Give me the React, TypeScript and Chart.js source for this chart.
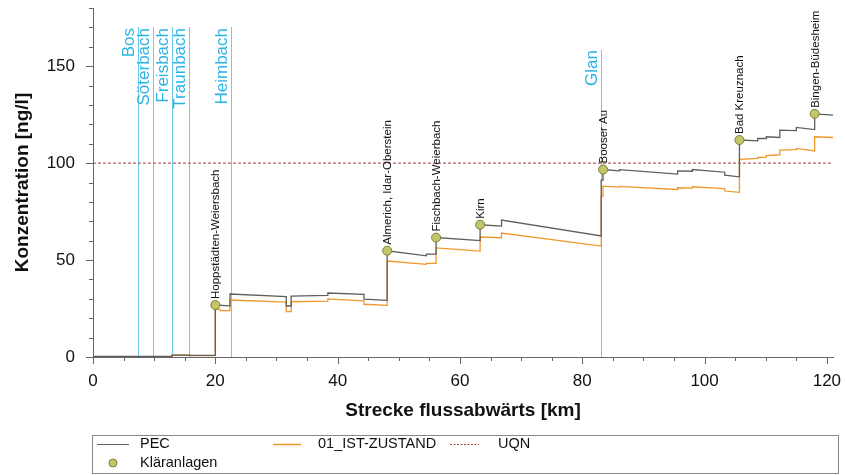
import { useEffect, useRef } from "react";
import { Chart, registerables } from "chart.js";
Chart.register(...registerables);

// ---- data ----
const pecKm = [0, 12.9, 12.9, 15.8, 15.8, 20.0, 20.0, 22.4, 22.4, 31.6, 31.6, 32.4, 32.4, 38.4, 38.4, 44.3, 44.3, 48.1, 48.1, 54.5, 54.5, 56.1, 56.1, 63.3, 63.3, 66.8, 66.8, 83.1, 83.1, 83.4, 83.4, 86.1, 86.1, 95.6, 95.6, 98.0, 98.0, 103.3, 103.3, 105.7, 105.7, 108.7, 108.7, 110.1, 110.1, 112.3, 112.3, 115.0, 115.0, 118.0, 118.0, 121];
const pecVal = [0.3, 0.3, 1.0, 1.0, 0.8, 0.8, 26.8, 26.4, 32.5, 31.1, 26.3, 26.3, 31.4, 31.8, 33.0, 32.3, 29.8, 29.2, 54.8, 52.2, 53.1, 53.1, 61.6, 60.0, 68.2, 67.5, 70.6, 62.4, 91.2, 91.2, 96.7, 96.0, 96.6, 94.3, 96.0, 95.8, 96.7, 95.3, 93.8, 92.9, 111.9, 111.5, 112.7, 112.7, 113.6, 113.2, 117.0, 116.8, 118.4, 117.3, 125.4, 124.7];

const istKm = [0, 12.9, 12.9, 15.8, 15.8, 20.0, 20.0, 20.8, 20.8, 22.4, 22.4, 31.6, 31.6, 32.4, 32.4, 38.4, 38.4, 44.3, 44.3, 48.1, 48.1, 54.5, 54.5, 56.1, 56.1, 63.3, 63.3, 66.8, 66.8, 83.1, 83.1, 83.4, 83.4, 86.1, 86.1, 95.6, 95.6, 98.0, 98.0, 103.3, 103.3, 105.7, 105.7, 108.7, 108.7, 110.1, 110.1, 112.3, 112.3, 115.0, 115.0, 118.0, 118.0, 121];
const istVal = [0.2, 0.2, 0.9, 0.9, 0.7, 0.7, 24.6, 24.6, 23.9, 23.9, 29.4, 28.3, 23.4, 23.4, 28.5, 28.8, 30.0, 28.9, 27.2, 26.6, 49.5, 47.8, 48.3, 48.3, 56.3, 54.6, 61.9, 61.5, 63.9, 57.2, 83.0, 83.0, 88.1, 87.6, 88.0, 86.4, 87.3, 87.1, 87.8, 86.8, 85.6, 84.9, 101.9, 102.4, 102.9, 103.1, 103.9, 104.3, 106.7, 106.9, 107.6, 106.3, 113.6, 113.2];

const plantNames = ["Hoppstädten-Weiersbach", "Almerich, Idar-Oberstein", "Fischbach-Weierbach", "Kirn", "Booser Au", "Bad Kreuznach", "Bingen-Büdesheim"];
const plantKm = [20.0, 48.1, 56.1, 63.3, 83.4, 105.7, 118.0];
const plantVal = [26.8, 54.8, 61.6, 68.2, 96.7, 111.9, 125.4];

const tribNames = ["Bos", "Söterbach", "Freisbach", "Traunbach", "Heimbach", "Glan"];
const tribKm = [7.4, 9.75, 12.95, 15.7, 22.5, 83.1];

const uqnValue = 100;
const xMax = 121;
const yMax = 180;
const xLabelTicks = [0, 20, 40, 60, 80, 100, 120];
const yLabelTicks = [0, 50, 100, 150];

const FONT = '"Liberation Sans", Arial, sans-serif';
const PEC_COLOR = "#5e5e5e";
const IST_COLOR = "#f0982a";
const UQN_COLOR = "#a33a3a";
const TRIB_COLOR = "#6ccdea";
const TRIB_TEXT = "#2ab4e6";
const PT_FILL = "#c3c56a";
const PT_BORDER = "#7d7d35";

const deco = {
  id: "deco",
  beforeDatasetsDraw(chart: any) {
    const ctx = chart.ctx;
    const xs = chart.scales.x;
    const area = chart.chartArea;
    ctx.save();
    ctx.strokeStyle = TRIB_COLOR;
    ctx.lineWidth = 1;
    tribKm.forEach((km, i) => {
      const x = Math.round(xs.getPixelForValue(km)) + 0.5;
      const top = tribNames[i] === "Glan" ? 50 : 27;
      ctx.beginPath();
      ctx.moveTo(x, top);
      ctx.lineTo(x, area.bottom);
      ctx.stroke();
    });
    ctx.restore();
  },
  afterDatasetsDraw(chart: any) {
    const ctx = chart.ctx;
    const xs = chart.scales.x;
    const ys = chart.scales.y;
    const area = chart.chartArea;
    ctx.save();
    // tick marks
    ctx.strokeStyle = "#666";
    ctx.lineWidth = 1;
    for (let v = 0; v <= 120; v += 5) {
      const x = Math.round(xs.getPixelForValue(v)) + 0.5;
      const len = xLabelTicks.includes(v) ? 7 : 4;
      ctx.beginPath();
      ctx.moveTo(x, area.bottom);
      ctx.lineTo(x, area.bottom + len);
      ctx.stroke();
    }
    for (let v = 0; v <= yMax; v += 10) {
      const y = Math.round(ys.getPixelForValue(v)) + 0.5;
      const len = yLabelTicks.includes(v) ? 7 : 4;
      ctx.beginPath();
      ctx.moveTo(area.left - len, y);
      ctx.lineTo(area.left, y);
      ctx.stroke();
    }

    // tributary labels
    ctx.fillStyle = TRIB_TEXT;
    ctx.font = `17px ${FONT}`;
    ctx.textAlign = "right";
    ctx.textBaseline = "alphabetic";
    tribKm.forEach((km, i) => {
      const x = xs.getPixelForValue(km) - 4;
      const top = tribNames[i] === "Glan" ? 50 : 28;
      ctx.save();
      ctx.translate(x, top);
      ctx.rotate(-Math.PI / 2);
      ctx.fillText(tribNames[i], 0, 0);
      ctx.restore();
    });

    // plant labels
    ctx.fillStyle = "#111";
    ctx.font = `11.5px ${FONT}`;
    ctx.textAlign = "left";
    plantKm.forEach((km, i) => {
      const x = xs.getPixelForValue(km) + 4;
      const y = ys.getPixelForValue(plantVal[i]) - 6;
      ctx.save();
      ctx.translate(x, y);
      ctx.rotate(-Math.PI / 2);
      ctx.fillText(plantNames[i], 0, 0);
      ctx.restore();
    });

    // axis titles
    ctx.fillStyle = "#111";
    ctx.font = `bold 19px ${FONT}`;
    ctx.textAlign = "center";
    ctx.textBaseline = "middle";
    ctx.fillText("Strecke flussabwärts [km]", (area.left + area.right) / 2, 411);
    ctx.save();
    ctx.translate(23, (area.top + area.bottom) / 2);
    ctx.rotate(-Math.PI / 2);
    ctx.fillText("Konzentration [ng/l]", 0, 0);
    ctx.restore();

    // legend
    ctx.strokeStyle = "#888";
    ctx.lineWidth = 1;
    ctx.strokeRect(92.5, 435.5, 746, 38);
    ctx.font = `14.5px ${FONT}`;
    ctx.textAlign = "left";
    ctx.textBaseline = "middle";
    ctx.fillStyle = "#111";
    const r1 = 444, r2 = 463;
    ctx.strokeStyle = PEC_COLOR;
    ctx.beginPath(); ctx.moveTo(97, r1 + 0.5); ctx.lineTo(129, r1 + 0.5); ctx.stroke();
    ctx.fillText("PEC", 140, r1);
    ctx.strokeStyle = IST_COLOR;
    ctx.lineWidth = 1.5;
    ctx.beginPath(); ctx.moveTo(273, r1 + 0.5); ctx.lineTo(301, r1 + 0.5); ctx.stroke();
    ctx.fillText("01_IST-ZUSTAND", 318, r1);
    ctx.strokeStyle = UQN_COLOR;
    ctx.lineWidth = 1;
    ctx.setLineDash([2, 1.5]);
    ctx.beginPath(); ctx.moveTo(450, r1 + 0.5); ctx.lineTo(479, r1 + 0.5); ctx.stroke();
    ctx.setLineDash([]);
    ctx.fillText("UQN", 498, r1);
    ctx.fillStyle = PT_FILL;
    ctx.strokeStyle = PT_BORDER;
    ctx.beginPath(); ctx.arc(113, r2, 4, 0, Math.PI * 2); ctx.fill(); ctx.stroke();
    ctx.fillStyle = "#111";
    ctx.fillText("Kläranlagen", 140, r2);
    ctx.restore();
  },
};

export default function App() {
  const ref = useRef<HTMLCanvasElement>(null);
  useEffect(() => {
    const toPts = (xsArr: number[], ysArr: number[]) => xsArr.map((x, i) => ({ x, y: ysArr[i] }));
    const chart = new Chart(ref.current!, {
      type: "line",
      data: {
        datasets: [
          {
            label: "Kläranlagen",
            data: toPts(plantKm, plantVal),
            showLine: false,
            pointRadius: 4.5,
            pointBackgroundColor: PT_FILL,
            pointBorderColor: PT_BORDER,
            pointBorderWidth: 1,
          },
          {
            label: "PEC",
            data: toPts(pecKm, pecVal),
            borderColor: PEC_COLOR,
            borderWidth: 1.3,
            pointRadius: 0,
            tension: 0,
          },
          {
            label: "01_IST-ZUSTAND",
            data: toPts(istKm, istVal),
            borderColor: IST_COLOR,
            borderWidth: 1.3,
            pointRadius: 0,
            tension: 0,
          },
          {
            label: "UQN",
            data: [{ x: 0, y: uqnValue }, { x: xMax, y: uqnValue }],
            borderColor: UQN_COLOR,
            borderWidth: 1,
            borderDash: [3, 2],
            pointRadius: 0,
          },
        ] as any,
      },
      options: {
        responsive: false,
        animation: false,
        events: [],
        layout: { padding: { left: 0, right: 12, top: 8, bottom: 0 } },
        plugins: { legend: { display: false }, tooltip: { enabled: false } },
        scales: {
          x: {
            type: "linear",
            min: 0,
            max: xMax,
            grid: { display: false, drawTicks: true, tickLength: 8 },
            border: { display: true, color: "#666", width: 1 },
            ticks: {
              stepSize: 5,
              includeBounds: false,
              autoSkip: false,
              maxRotation: 0,
              padding: 6,
              color: "#111",
              font: { family: FONT, size: 17 },
              callback: (v: any) => (xLabelTicks.includes(Number(v)) ? String(v) : ""),
            },
            afterFit: (s: any) => { s.height = 118; s.paddingLeft = 0; s.paddingRight = 0; },
          },
          y: {
            type: "linear",
            min: 0,
            max: yMax,
            grid: { display: false, drawTicks: true, tickLength: 8 },
            border: { display: true, color: "#666", width: 1 },
            ticks: {
              stepSize: 10,
              autoSkip: false,
              padding: 10,
              color: "#111",
              font: { family: FONT, size: 17 },
              callback: (v: any) => (yLabelTicks.includes(Number(v)) ? String(v) : ""),
            },
            afterFit: (s: any) => { s.width = 93; s.paddingTop = 0; s.paddingBottom = 0; },
          },
        },
      } as any,
      plugins: [deco],
    });
    return () => chart.destroy();
  }, []);
  return (
    <canvas
      ref={ref}
      width={845}
      height={475}
      style={{ position: "fixed", left: 0, top: 0, width: 845, height: 475, display: "block" }}
    />
  );
}
